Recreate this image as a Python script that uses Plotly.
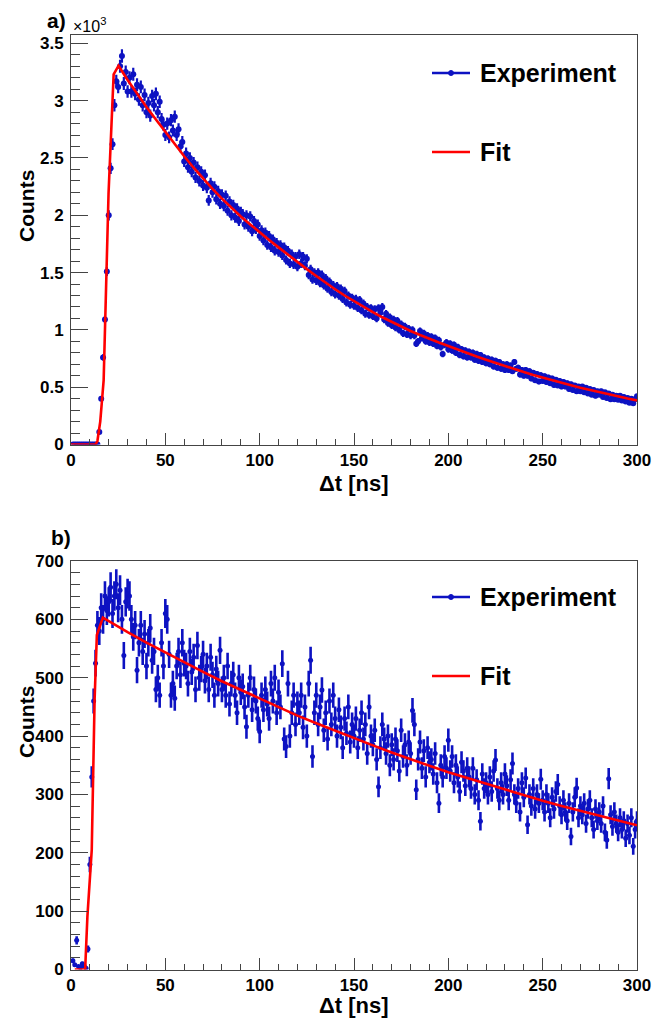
import numpy as np
import plotly.graph_objects as go

# ---------------- data ----------------
t_bins = list(range(1, 301))  # ns, 1 ns bins

counts_a = [
    0, 0, 0, 0, 0, 0, 0, 0, 0, 0,
    0, 0, 0, 0, 110, 400, 760, 1090, 1510, 2000,
    2410, 2620, 2960, 3170, 3120, 3300, 3390, 3150, 3250, 3080,
    3200, 3080, 3230, 3060, 3140, 3010, 3120, 2960, 3050, 2900,
    2980, 2870, 3040, 2960, 3060, 2900, 2990, 2840, 2790, 2700,
    2800, 2680, 2830, 2740, 2860, 2700, 2750, 2600, 2640, 2470,
    2540, 2420, 2500, 2380, 2460, 2330, 2420, 2300, 2380, 2260,
    2350, 2240, 2130, 2280, 2200, 2250, 2140, 2210, 2100, 2180,
    2080, 2170, 2040, 2120, 2000, 2090, 1980, 2060, 1950, 2030,
    2010, 1920, 2000, 1900, 1990, 1860, 1950, 1880, 1920, 1820,
    1870, 1780, 1850, 1740, 1820, 1720, 1790, 1690, 1760, 1680,
    1740, 1650, 1720, 1610, 1690, 1580, 1660, 1570, 1640, 1550,
    1660, 1580, 1640, 1560, 1620, 1480, 1530, 1440, 1500, 1430,
    1500, 1410, 1480, 1390, 1450, 1360, 1420, 1330, 1390, 1310,
    1380, 1300, 1360, 1270, 1340, 1240, 1300, 1220, 1280, 1210,
    1270, 1190, 1260, 1170, 1230, 1140, 1200, 1130, 1190, 1120,
    1180, 1100, 1190, 1150, 1200, 1090, 1140, 1060, 1110, 1040,
    1090, 1020, 1080, 1000, 1050, 970, 1030, 960, 1010, 950,
    1000, 950, 880, 900, 990, 930, 970, 900, 950, 890,
    940, 880, 930, 860, 910, 850, 790, 870, 890, 830,
    880, 820, 870, 800, 850, 780, 830, 770, 820, 760,
    810, 760, 800, 740, 790, 730, 780, 720, 760, 710,
    750, 700, 740, 680, 730, 670, 720, 660, 700, 650,
    700, 650, 690, 640, 720, 660, 670, 610, 650, 600,
    650, 600, 640, 575, 625, 560, 615, 550, 605, 555,
    595, 545, 585, 535, 575, 520, 565, 515, 555, 505,
    545, 505, 535, 485, 525, 475, 515, 465, 505, 465,
    505, 455, 495, 445, 485, 435, 475, 425, 465, 435,
    465, 415, 455, 405, 445, 395, 435, 395, 425, 390,
    425, 385, 415, 375, 405, 365, 400, 360, 395, 420,
]

counts_b = [
    15, 8, 50, 5, 3, 10, 6, 2, 35, 180,
    330, 460, 525, 590, 580, 620, 600, 640, 615, 630,
    655, 610, 640, 660, 620, 650, 600, 538, 630, 644,
    640, 600, 570, 590, 513, 560, 590, 545, 575, 520,
    560, 585, 530, 545, 480, 500, 470, 560, 520, 610,
    600, 540, 470, 490, 465, 520, 545, 505, 560, 525,
    520, 490, 545, 510, 535, 480, 555, 500, 515, 540,
    495, 520, 480, 535, 505, 470, 515, 490, 547, 480,
    500, 470, 520, 455, 490, 505, 470, 440, 500, 475,
    485, 450, 416, 470, 500, 445, 480, 460, 430, 408,
    470, 445, 480, 455, 430, 490, 460, 500, 440, 475,
    450, 524, 395, 382, 490, 400, 440, 470, 420, 455,
    440, 470, 415, 450, 400, 490, 530, 365, 440, 470,
    420, 450, 479, 410, 440, 395, 460, 420, 470, 430,
    400, 445, 415, 380, 430, 405, 450, 390, 420, 400,
    430, 380, 410, 440, 395, 420, 370, 450, 400, 385,
    410, 360, 313, 380, 420, 395, 370, 400, 350, 385,
    360, 395, 375, 340, 410, 365, 385, 350, 390, 370,
    444, 420, 308, 360, 390, 345, 375, 330, 380, 355,
    360, 335, 370, 320, 285, 350, 330, 365, 345, 393,
    340, 365, 320, 350, 330, 305, 355, 340, 315, 345,
    330, 310, 345, 300, 325, 290, 254, 335, 310, 320,
    300, 330, 305, 340, 359, 310, 290, 320, 300, 335,
    315, 290, 325, 353, 300, 285, 310, 270, 320, 295,
    328, 248, 300, 280, 310, 275, 300, 285, 326, 290,
    270, 300, 285, 260, 295, 275, 305, 317, 280, 265,
    290, 270, 255, 285, 228, 270, 295, 311, 260, 280,
    265, 285, 250, 275, 290, 260, 240, 275, 255, 270,
    250, 280, 235, 222, 327, 265, 245, 270, 250, 235,
    260, 240, 255, 225, 250, 230, 260, 211, 240, 255,
]

fit_a_t = [0, 13, 14, 15.5, 17.3, 19.9, 22.6, 25.2,
           30, 35, 40, 45, 50, 55, 60, 65, 70, 75, 80, 85, 90, 95, 100,
           105, 110, 115, 120, 125, 130, 135, 140, 145, 150, 155, 160,
           165, 170, 175, 180, 185, 190, 195, 200, 205, 210, 215, 220,
           225, 230, 235, 240, 245, 250, 255, 260, 265, 270, 275, 280,
           285, 290, 295, 300]
fit_a_v = [0, 0, 30, 200, 560, 2190, 3230, 3305,
           3180, 3060, 2945, 2835, 2725, 2620, 2515, 2415, 2320, 2230, 2145, 2065, 1990, 1920, 1850,
           1785, 1720, 1655, 1595, 1530, 1470, 1410, 1355, 1300, 1250, 1200, 1155,
           1110, 1068, 1028, 990, 955, 920, 890, 860, 828, 798, 768, 740,
           712, 685, 658, 632, 607, 583, 560, 538, 516, 495, 475, 456,
           437, 419, 401, 385]

fit_b_t = [2, 7.5, 8.7, 11, 12.5, 13.7, 16.9,
           20, 30, 40, 50, 60, 70, 80, 90, 100, 110, 120, 130, 140, 150,
           160, 170, 180, 190, 200, 210, 220, 230, 240, 250, 260, 270,
           280, 290, 300]
fit_b_v = [0, 0, 91, 205, 461, 573, 603,
           597, 578, 560, 543, 526, 510, 494, 479, 464, 449, 435, 422, 409, 396,
           384, 372, 360, 349, 338, 328, 318, 308, 298, 289, 280, 272,
           263, 255, 247]

x_ticks = [0, 50, 100, 150, 200, 250, 300]
ya_ticks = [0, 500, 1000, 1500, 2000, 2500, 3000, 3500]
ya_labels = ["0", "0.5", "1", "1.5", "2", "2.5", "3", "3.5"]
yb_ticks = [0, 100, 200, 300, 400, 500, 600, 700]

# ---------------- style ----------------
W, H = 671, 1019
BLUE = "#0d12c2"
RED = "#ff0000"
FONT = "Liberation Sans, Arial, Helvetica, sans-serif"
AX = "#444444"

def px(x):
    return x / W

def py(y):
    return 1 - y / H

err_a = np.sqrt(np.array(counts_a, dtype=float))
err_b = np.sqrt(np.array(counts_b, dtype=float))

fig = go.Figure()

fig.add_trace(go.Scatter(
    x=t_bins, y=counts_a, mode="markers", xaxis="x", yaxis="y",
    marker=dict(color=BLUE, size=6),
    error_y=dict(type="data", array=err_a, color=BLUE, thickness=2.2, width=0),
    showlegend=False))
fig.add_trace(go.Scatter(
    x=fit_a_t, y=fit_a_v, mode="lines", xaxis="x", yaxis="y",
    line=dict(color=RED, width=2.6), showlegend=False))

fig.add_trace(go.Scatter(
    x=t_bins, y=counts_b, mode="markers", xaxis="x2", yaxis="y2",
    marker=dict(color=BLUE, size=5),
    error_y=dict(type="data", array=err_b, color=BLUE, thickness=2.6, width=0),
    showlegend=False))
fig.add_trace(go.Scatter(
    x=fit_b_t, y=fit_b_v, mode="lines", xaxis="x2", yaxis="y2",
    line=dict(color=RED, width=2.6), showlegend=False))

tickfont = dict(family=FONT, size=17, color="black", weight="bold")

def xaxis(anchor):
    return dict(domain=[px(71), px(637)], anchor=anchor, range=[0, 300],
                automargin=False,
                tickmode="array", tickvals=x_ticks, ticks="inside", ticklen=12,
                tickwidth=1, tickcolor=AX, showline=True, linecolor=AX, linewidth=1,
                mirror=True, showgrid=False, zeroline=False, tickfont=tickfont,
                ticklabelstandoff=0,
                minor=dict(tickmode="linear", tick0=0, dtick=10, ticks="inside",
                           ticklen=6, tickcolor=AX, showgrid=False))

fig.update_layout(
    width=W, height=H, margin=dict(l=0, r=0, t=0, b=0, autoexpand=False),
    paper_bgcolor="white", plot_bgcolor="white",
    xaxis=xaxis("y"),
    yaxis=dict(domain=[py(444.5), py(35)], anchor="x", range=[0, 3573],
               automargin=False,
               tickmode="array", tickvals=ya_ticks, ticktext=ya_labels,
               ticks="inside", ticklen=17, tickwidth=1, tickcolor=AX,
               showline=True, linecolor=AX, linewidth=1, mirror=True,
               showgrid=False, zeroline=False, tickfont=tickfont, ticklabelstandoff=3,
               minor=dict(tickmode="linear", tick0=0, dtick=100, ticks="inside",
                          ticklen=9, tickcolor=AX, showgrid=False)),
    xaxis2=xaxis("y2"),
    yaxis2=dict(domain=[py(969.5), py(561)], anchor="x2", range=[0, 700],
                automargin=False,
                tickmode="array", tickvals=yb_ticks,
                ticks="inside", ticklen=17, tickwidth=1, tickcolor=AX,
                showline=True, linecolor=AX, linewidth=1, mirror=True,
                showgrid=False, zeroline=False, tickfont=tickfont, ticklabelstandoff=3,
                minor=dict(tickmode="linear", tick0=0, dtick=20, ticks="inside",
                           ticklen=9, tickcolor=AX, showgrid=False)),
)

def txt(x, y, s, size, xanchor="center", yanchor="middle", angle=0, bold=True):
    fig.add_annotation(x=px(x), y=py(y), xref="paper", yref="paper", text=s,
                       showarrow=False, xanchor=xanchor, yanchor=yanchor,
                       textangle=angle,
                       font=dict(family=FONT, size=size, color="black",
                                 weight="bold" if bold else "normal"))

# panel labels and axis titles
txt(45, 20, "a)", 21, xanchor="left")
txt(71, 25, "×10<sup>3</sup>", 16, xanchor="left", bold=False)
txt(49, 537, "b)", 21, xanchor="left")
txt(354, 483, "Δt [ns]", 22)
txt(354, 1005, "Δt [ns]", 22)
txt(26, 206, "Counts", 21, angle=-90)
txt(26, 722, "Counts", 21, angle=-90)

# legends
def legend_entry(y, label, color, marker):
    fig.add_shape(type="line", xref="paper", yref="paper",
                  x0=px(432), x1=px(470), y0=py(y), y1=py(y),
                  line=dict(color=color, width=2.5))
    if marker:
        fig.add_shape(type="circle", xref="paper", yref="paper",
                      x0=px(448.5), x1=px(453.5), y0=py(y - 2.5), y1=py(y + 2.5),
                      fillcolor=color, line=dict(color=color, width=1))
    txt(478, y, label, 25, xanchor="left")

legend_entry(73, "Experiment", BLUE, True)
legend_entry(152, "Fit", RED, False)
legend_entry(597, "Experiment", BLUE, True)
legend_entry(676, "Fit", RED, False)

fig.write_html(
    "out.html",
    config={"displayModeBar": False},
    post_script="document.body.style.margin='0';document.body.style.overflow='hidden';",
)
